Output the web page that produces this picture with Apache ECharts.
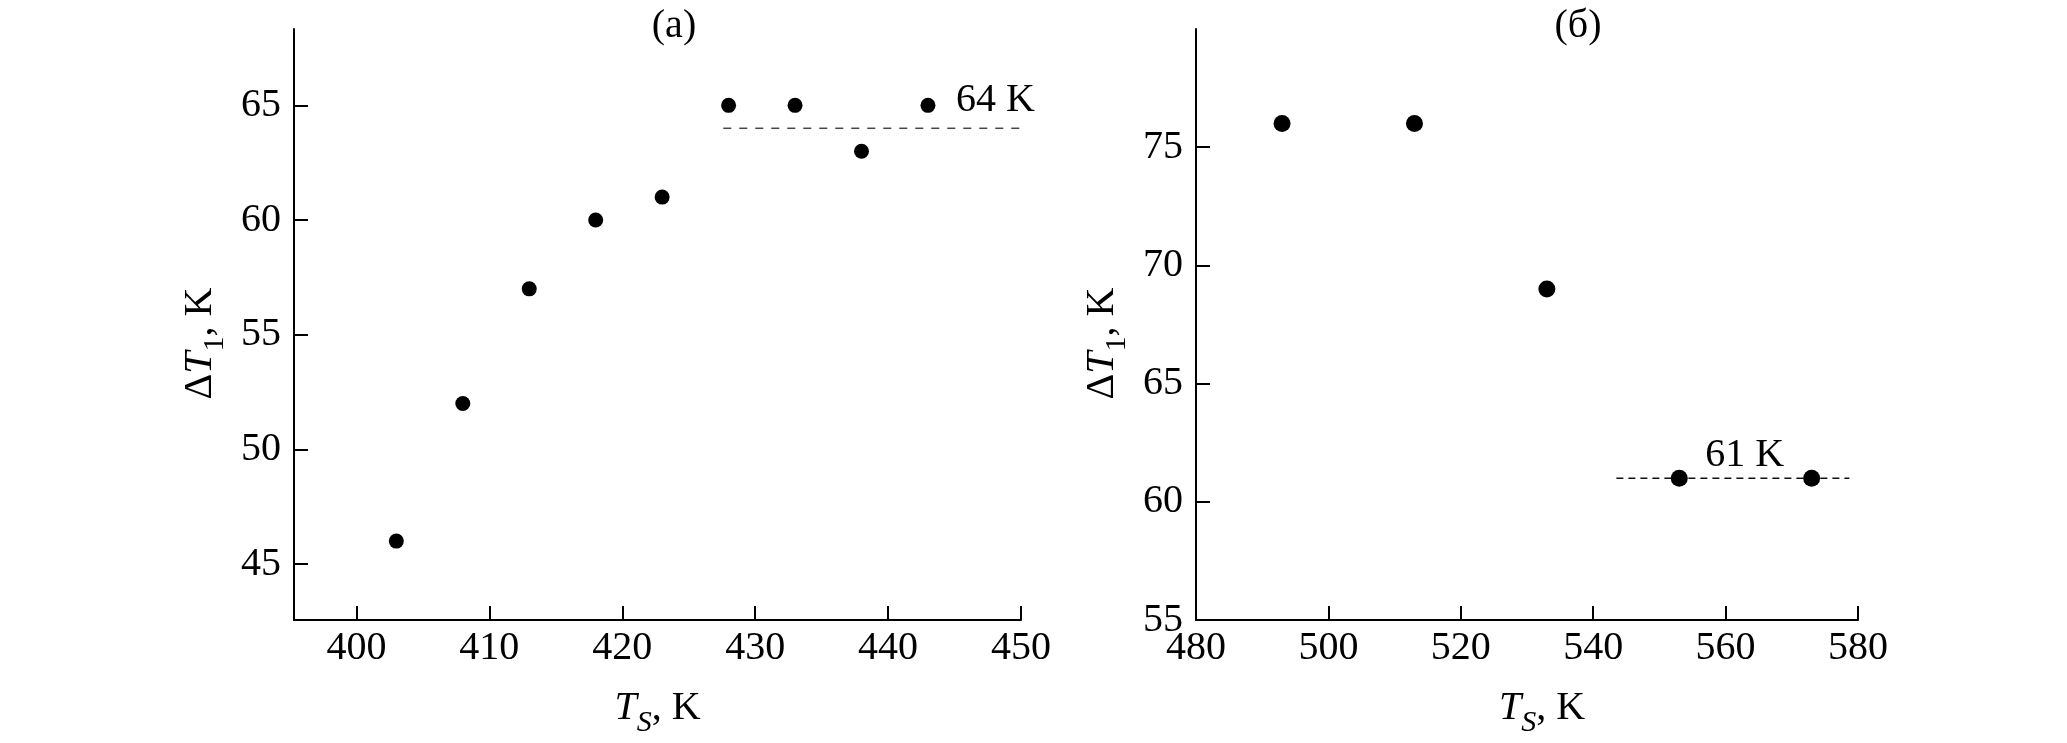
<!DOCTYPE html>
<html>
<head>
<meta charset="utf-8">
<script src="https://cdn.jsdelivr.net/npm/echarts@6/dist/echarts.min.js"></script>
<style>
html,body{margin:0;padding:0;background:#fff;}
#chart{width:2067px;height:743px;}
</style>
</head>
<body>
<div id="chart"></div>
<script>
// ---- data ----
const panelTitles = ['(a)', '(б)'];

// panel (a)
const aTs = [403, 408, 413, 418, 423, 428, 433, 438, 443];
const aDT = [46, 52, 57, 60, 61, 65, 65, 63, 65];
const aLevel = 64;
const aLevelFrom = 427.6;
const aLevelTo = 450.3;
const aLevelLabel = '64 K';
const aXTicks = [400, 410, 420, 430, 440, 450];
const aYTicks = [45, 50, 55, 60, 65];

// panel (б)
const bTs = [493, 513, 533, 553, 573];
const bDT = [76, 76, 69, 61, 61];
const bLevel = 61;
const bLevelFrom = 543.5;
const bLevelTo = 578.7;
const bLevelLabel = '61 K';
const bXTicks = [480, 500, 520, 540, 560, 580];
const bYTicks = [55, 60, 65, 70, 75];

// ---- chart ----
const FONT = '"Liberation Serif", "Times New Roman", serif';
const FS = 40;

function pairs(xs, ys) { return xs.map((x, i) => [x, ys[i]]); }

const richName = {
  n: { fontFamily: FONT, fontSize: FS, color: '#000', lineHeight: 50, verticalAlign: 'top' },
  i: { fontFamily: FONT, fontSize: FS, fontStyle: 'italic', color: '#000', lineHeight: 50, verticalAlign: 'top' },
  s: { fontFamily: FONT, fontSize: 30, color: '#000', lineHeight: 30, verticalAlign: 'bottom' },
  si: { fontFamily: FONT, fontSize: 30, fontStyle: 'italic', color: '#000', lineHeight: 30, verticalAlign: 'bottom' }
};

function xAxis(gi, min, max, ticks, pad) {
  return {
    type: 'value', gridIndex: gi, min: min, max: max,
    name: '{i|T}{si|S}{n|, K}', nameLocation: 'middle', nameGap: 68,
    nameTextStyle: { rich: richName, padding: pad },
    axisLine: { show: true, onZero: false, lineStyle: { color: '#000', width: 2 } },
    axisTick: { show: true, inside: true, length: 14, lineStyle: { color: '#000', width: 2 }, customValues: ticks },
    axisLabel: { show: true, margin: 8, color: '#000', fontFamily: FONT, fontSize: FS, customValues: ticks },
    splitLine: { show: false }
  };
}
function yAxis(gi, min, max, ticks) {
  return {
    type: 'value', gridIndex: gi, min: min, max: max,
    name: '{n|Δ}{i|T}{s|1}{n|, K}', nameLocation: 'middle', nameGap: 64, nameRotate: 90,
    nameTextStyle: { rich: richName, padding: [0, 38, 0, 0] },
    axisLine: { show: true, onZero: false, lineStyle: { color: '#000', width: 2 } },
    axisTick: { show: true, inside: true, length: 14, lineStyle: { color: '#000', width: 2 }, customValues: ticks },
    axisLabel: { show: true, margin: 13, color: '#000', fontFamily: FONT, fontSize: FS, customValues: ticks },
    splitLine: { show: false }
  };
}

const labelStyle = { show: true, color: '#000', fontFamily: FONT, fontSize: FS, opacity: 1 };

const option = {
  backgroundColor: '#fff',
  animation: false,
  grid: [
    { left: 294, top: 29, width: 727, height: 591 },
    { left: 1196, top: 29, width: 662, height: 591 }
  ],
  xAxis: [xAxis(0, 395.3, 450, aXTicks, [0, 0, 0, 0]), xAxis(1, 480, 580, bXTicks, [0, 0, 0, 30])],
  yAxis: [yAxis(0, 42.56, 68.33, aYTicks), yAxis(1, 55, 80, bYTicks)],
  graphic: [
    { type: 'text', x: 674, y: 26, style: { text: panelTitles[0], font: FS + 'px ' + FONT, fill: '#000', textAlign: 'center', textVerticalAlign: 'middle' } },
    { type: 'text', x: 1578, y: 26, style: { text: panelTitles[1], font: FS + 'px ' + FONT, fill: '#000', textAlign: 'center', textVerticalAlign: 'middle' } }
  ],
  series: [
    {
      type: 'line', xAxisIndex: 0, yAxisIndex: 0, symbol: 'none', silent: true,
      data: [[aLevelFrom, aLevel], [aLevelTo, aLevel]],
      lineStyle: { color: '#444', width: 1.5, type: [8, 8] }, z: 1
    },
    {
      type: 'line', xAxisIndex: 1, yAxisIndex: 1, symbol: 'none', silent: true,
      data: [[bLevelFrom, bLevel], [bLevelTo, bLevel]],
      lineStyle: { color: '#111', width: 1.5, type: [7, 5] }, z: 1
    },
    {
      type: 'scatter', xAxisIndex: 0, yAxisIndex: 0, symbol: 'circle', symbolSize: 15,
      itemStyle: { color: '#000', opacity: 1 }, data: pairs(aTs, aDT), z: 3
    },
    {
      type: 'scatter', xAxisIndex: 1, yAxisIndex: 1, symbol: 'circle', symbolSize: 17,
      itemStyle: { color: '#000', opacity: 1 }, data: pairs(bTs, bDT), z: 3
    },
    {
      type: 'scatter', xAxisIndex: 0, yAxisIndex: 0, symbolSize: 0, silent: true,
      itemStyle: { opacity: 1 },
      data: [[445.1, 65.2]],
      label: Object.assign({}, labelStyle, { position: 'inside', align: 'left', verticalAlign: 'middle', formatter: aLevelLabel })
    },
    {
      type: 'scatter', xAxisIndex: 1, yAxisIndex: 1, symbolSize: 0, silent: true,
      itemStyle: { opacity: 1 },
      data: [[562.9, 61.95]],
      label: Object.assign({}, labelStyle, { position: 'inside', align: 'center', verticalAlign: 'middle', formatter: bLevelLabel })
    }
  ]
};

const chart = echarts.init(document.getElementById('chart'), null, { renderer: 'canvas' });
chart.setOption(option);
</script>
</body>
</html>
